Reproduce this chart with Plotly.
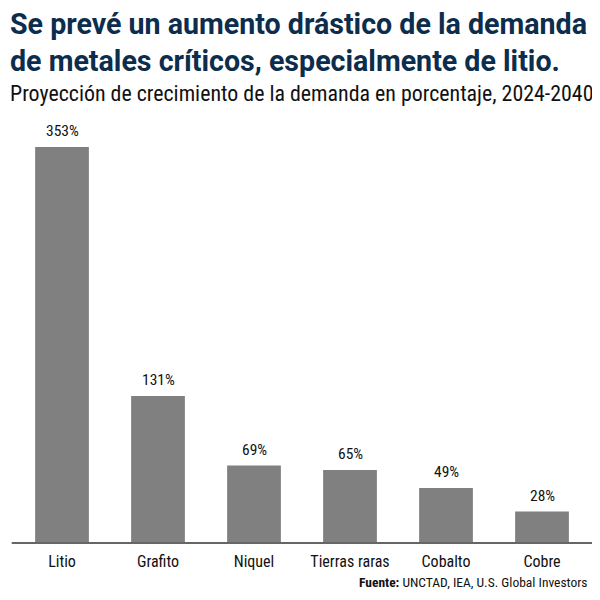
import plotly.graph_objects as go

# Datos
metales = ["Litio", "Grafito", "Niquel", "Tierras raras", "Cobalto", "Cobre"]
crecimiento = [353, 131, 69, 65, 49, 28]

titulo = "Se prevé un aumento drástico de la demanda<br>de metales críticos, especialmente de litio."
subtitulo = "Proyección de crecimiento de la demanda en porcentaje, 2024-2040"
fuente = "<b>Fuente:</b> UNCTAD, IEA, U.S. Global Investors"

condensed = "Roboto Condensed, DejaVu Sans Condensed, sans-serif"

fig = go.Figure()
fig.add_trace(go.Bar(
    x=metales,
    y=crecimiento,
    marker=dict(color="#808080", line=dict(width=0)),
    hoverinfo="skip",
))

# Etiquetas de valor sobre cada barra
for m, v in zip(metales, crecimiento):
    fig.add_annotation(
        x=m, y=v, text=f"{v}%", showarrow=False,
        xanchor="center", yanchor="bottom", yshift=5,
        font=dict(family=condensed, size=15.5, color="#111111"),
    )

# la página tiene 8px de margen, por eso 584x584
fig.update_layout(
    width=584,
    height=584,
    paper_bgcolor="white",
    plot_bgcolor="white",
    showlegend=False,
    bargap=0.44,
    margin=dict(l=6, r=2, t=112, b=49),
    font=dict(family=condensed, color="#111111"),
)

fig.update_xaxes(
    showline=False,
    ticks="",
    ticklabelstandoff=7,
    tickfont=dict(family=condensed, size=16, color="#111111"),
    showgrid=False,
)
fig.update_yaxes(
    range=[0, 377],
    visible=False,
    showgrid=False,
)

# Línea del eje
fig.add_shape(
    type="line", xref="paper", yref="paper",
    x0=-0.004, x1=1.02, y0=0, y1=0,
    line=dict(color="#666666", width=2),
)

fig.add_annotation(
    text=titulo, xref="paper", yref="paper", x=-0.0104, y=1.183,
    xanchor="left", yanchor="middle", align="left", showarrow=False,
    font=dict(family="Roboto, sans-serif", size=28.6, color="#0c2d4c", weight="bold"),
)
fig.add_annotation(
    text=subtitulo, xref="paper", yref="paper", x=-0.0104, y=1.062,
    xanchor="left", yanchor="middle", align="left", showarrow=False,
    font=dict(family=condensed, size=21.9, color="#111111"),
)
fig.add_annotation(
    text=fuente, xref="paper", yref="paper", x=1.0, y=-0.1158,
    xanchor="right", yanchor="bottom", align="right", showarrow=False,
    font=dict(family=condensed, size=13.5, color="#111111"),
)

fig.write_html("out.html")
